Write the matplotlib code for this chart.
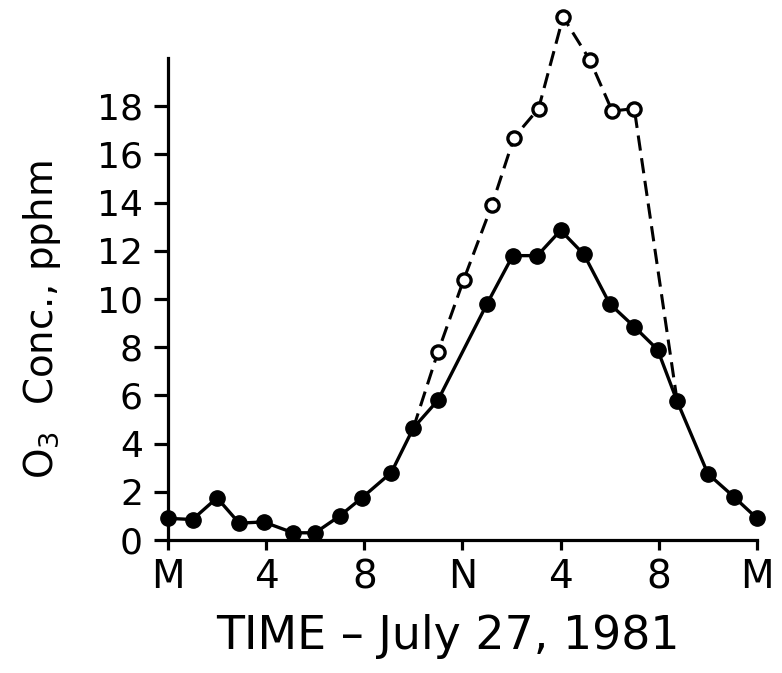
import numpy as np
import matplotlib.pyplot as plt

# hourly ozone, solid line (filled dots)
hours_solid = [0, 1, 2, 2.9, 3.9, 5.1, 6, 7, 7.9, 9.1, 10, 11,
               13, 14.05, 15.05, 16, 16.95, 18, 19, 19.95, 20.75, 22, 23.05, 24]
o3_solid = [0.9, 0.85, 1.75, 0.7, 0.75, 0.3, 0.3, 1.0, 1.75, 2.8, 4.65, 5.8,
            9.8, 11.8, 11.8, 12.85, 11.85, 9.8, 8.85, 7.9, 5.75, 2.75, 1.8, 0.9]

# dashed line (open dots), branches off at 10 and rejoins near 21
hours_dash = [10, 11, 12.05, 13.2, 14.1, 15.1, 16.1, 17.2, 18.1, 19.0, 20.75]
o3_dash = [4.65, 7.8, 10.8, 13.9, 16.7, 17.9, 21.7, 19.9, 17.8, 17.9, 5.75]

xtick_pos = [0, 4, 8, 12, 16, 20, 24]
xtick_labels = ['M', '4', '8', 'N', '4', '8', 'M']
ytick_pos = [0, 2, 4, 6, 8, 10, 12, 14, 16, 18]

fig = plt.figure(figsize=(7.82, 6.73), dpi=100)
ax = fig.add_axes([0.2148, 0.1976, 0.7532, 0.7162])

ax.plot(hours_dash, o3_dash, color='black', lw=2.2, dashes=(5, 2.5),
        marker='o', markevery=list(range(1, 10)), ms=9.5, mfc='white',
        mec='black', mew=2.4, clip_on=False, zorder=2)
ax.plot(hours_solid, o3_solid, color='black', lw=2.4, marker='o', ms=11,
        mfc='black', mec='black', clip_on=False, zorder=3)

ax.set_xlim(0, 24)
ax.set_ylim(0, 20)
ax.spines['top'].set_visible(False)
ax.spines['right'].set_visible(False)
for s in ['left', 'bottom']:
    ax.spines[s].set_linewidth(2.3)

ax.set_xticks(xtick_pos)
ax.set_xticklabels(xtick_labels)
ax.set_yticks(ytick_pos)
ax.tick_params(axis='y', direction='out', length=10, width=2.3,
               labelsize=26, pad=8)
ax.tick_params(axis='x', direction='out', length=7, width=2.3,
               labelsize=28, pad=6)

fig.text(0.054, 0.525, 'O$_3$  Conc., pphm', rotation=90, fontsize=28,
         ha='center', va='center')
fig.text(0.573, 0.054, 'TIME \u2013 July 27, 1981', fontsize=33,
         ha='center', va='center')

fig.savefig('out.png', dpi=100)
